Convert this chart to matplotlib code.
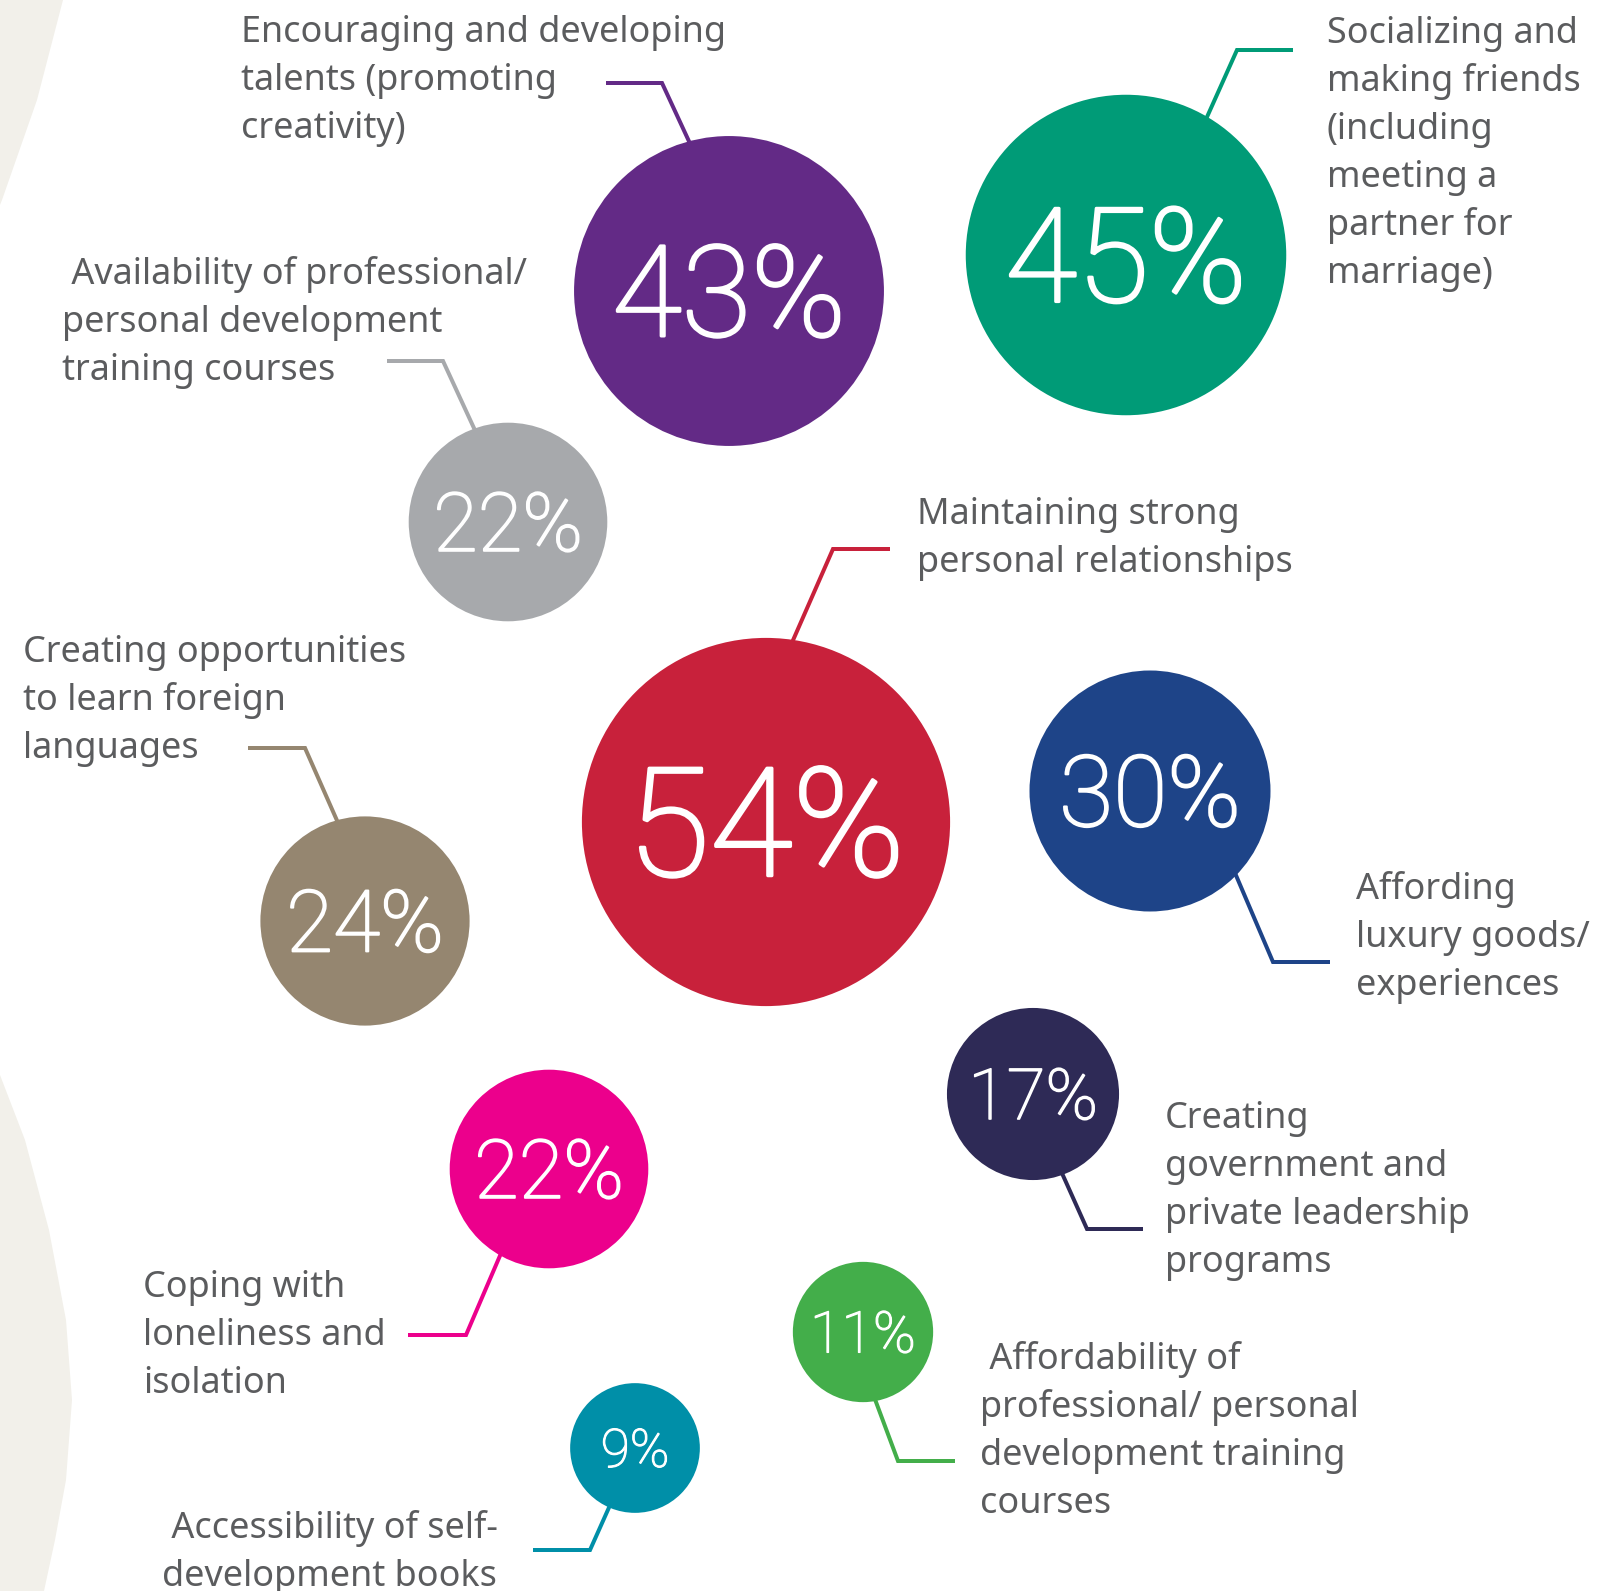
import numpy as np
import matplotlib
matplotlib.use("Agg")
import matplotlib.pyplot as plt
import matplotlib.patheffects as pe
from matplotlib.patches import Circle, Polygon

# data
values = [43, 45, 22, 54, 24, 30, 17, 22, 11, 9]
labels = [
    "Encouraging and developing\ntalents (promoting\ncreativity)",
    "Socializing and\nmaking friends\n(including\nmeeting a\npartner for\nmarriage)",
    " Availability of professional/\npersonal development\ntraining courses",
    "Maintaining strong\npersonal relationships",
    "Creating opportunities\nto learn foreign\nlanguages",
    "Affording\nluxury goods/\nexperiences",
    "Creating\ngovernment and\nprivate leadership\nprograms",
    "Coping with\nloneliness and\nisolation",
    " Affordability of\nprofessional/ personal\ndevelopment training\ncourses",
    " Accessibility of self-\ndevelopment books",
]
colors = ["#632a86", "#009b77", "#a7a9ac", "#c8213b", "#958670",
          "#1e4488", "#2e2a56", "#ec008c", "#43ae4a", "#008fa8"]

# layout (pixel coords, y down)
centers = [(729, 291), (1126, 255), (508, 522), (766, 822), (365, 921),
           (1150, 791), (1033, 1094), (549, 1169), (863, 1332), (635, 1448)]
leaders = [
    [(693, 150), (662, 83), (606, 83)],
    [(1207, 117), (1237, 50), (1293, 50)],
    [(473, 426), (443, 361), (387, 361)],
    [(794, 638), (833, 549), (890, 549)],
    [(335, 816), (305, 748), (248, 748)],
    [(1238, 880), (1273, 962), (1330, 962)],
    [(1061, 1171), (1087, 1229), (1143, 1229)],
    [(499, 1258), (466, 1335), (408, 1335)],
    [(876, 1402), (898, 1461), (955, 1461)],
    [(611, 1503), (590, 1550), (533, 1550)],
]
text_pos = [(241, 42), (1327, 43), (62, 284), (917, 524), (23, 662),
            (1356, 899), (1165, 1128), (143, 1297), (980, 1369), (162, 1538)]

W, H, DPI = 1621, 1591, 100
PT = 72 / DPI
TEXT_PX = 36
LINE_PX = 48

fig = plt.figure(figsize=(W / DPI, H / DPI), dpi=DPI)
ax = fig.add_axes([0, 0, 1, 1])
ax.set_xlim(0, W)
ax.set_ylim(H, 0)
ax.axis("off")

# beige background shapes at the left edge
beige = "#f2f0ea"
top = [(0, 0), (63, 0), (37, 100), (2, 200), (0, 205)]
bot = [(0, 1075), (25, 1140), (49, 1230), (66, 1320), (72, 1400),
       (66, 1480), (55, 1540), (44, 1591), (0, 1591)]
ax.add_patch(Polygon(top, closed=True, fc=beige, ec="none", zorder=0))
ax.add_patch(Polygon(bot, closed=True, fc=beige, ec="none", zorder=0))


def radius(v):
    return 41 + 2.65 * v


def edge_point(c, r, p, q):
    # where the line from elbow q through p meets the circle
    c, p, q = map(np.asarray, (c, p, q))
    d = (p - q) / np.linalg.norm(p - q)
    f = q - c
    b = np.dot(f, d)
    t = -b - np.sqrt(max(b * b - (np.dot(f, f) - r * r), 0))
    return q + (t + 3) * d


for v, c, (cx, cy), pts in zip(values, colors, centers, leaders):
    r = radius(v)
    start = edge_point((cx, cy), r, pts[0], pts[1])
    xs = [start[0], pts[1][0], pts[2][0]]
    ys = [start[1], pts[1][1], pts[2][1]]
    ax.plot(xs, ys, color=c, lw=4 * PT, solid_joinstyle="miter",
            solid_capstyle="butt", zorder=1)
    ax.add_patch(Circle((cx, cy), r, fc=c, ec="none", zorder=2))
    fpx = 0.82 * r
    ax.text(cx, cy + 0.355 * fpx, f"{v}%", ha="center", va="baseline",
            color="white", fontsize=fpx * PT, family="Roboto",
            fontweight="light", zorder=3,
            path_effects=[pe.withStroke(linewidth=0.022 * fpx * PT,
                                        foreground="white")])

for lab, (tx, ty) in zip(labels, text_pos):
    for i, line in enumerate(lab.split("\n")):
        ax.text(tx, ty + i * LINE_PX, line, ha="left", va="baseline",
                color="#5b5c5e", fontsize=TEXT_PX * PT,
                family=["Noto Sans", "DejaVu Sans"], zorder=3)

fig.savefig("out.png", dpi=DPI, facecolor="white")
